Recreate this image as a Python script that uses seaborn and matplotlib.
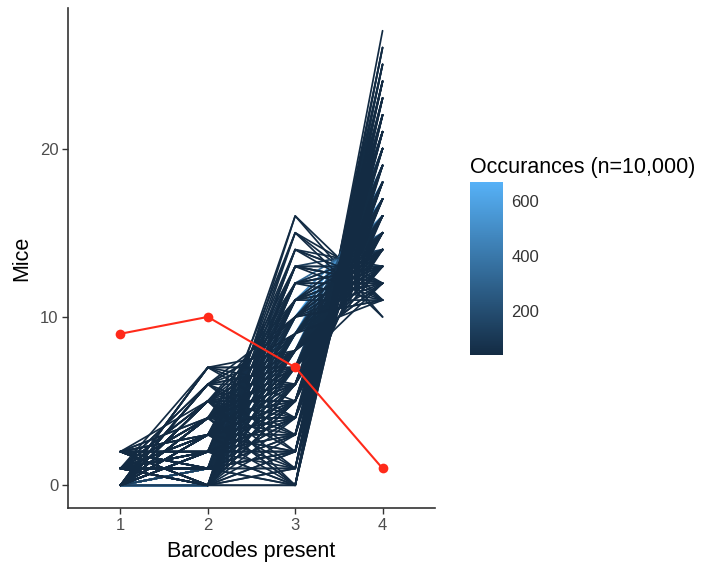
import numpy as np
import pandas as pd
import matplotlib
matplotlib.use("Agg")
import matplotlib.pyplot as plt
from matplotlib.colors import LinearSegmentedColormap, Normalize
from matplotlib.cm import ScalarMappable
import seaborn as sns

# ---------------- data ----------------
barcodes = [1, 2, 3, 4]
# mice counts at 1,2,3,4 barcodes present for each simulated outcome, with occurrence counts
b1 = [0,0,0,0,0,0,0,0,0,0,0,0,0,0,0,0,1,1,0,0,0,1,1,0,0,0,
      0,0,0,1,0,0,1,1,0,0,0,2,0,0,1,0,0,0,0,0,1,0,2,0,0,0,0,1,0,0,0,0,0,1,0,1,2,0,
      0,0,0,0,1,0,0,1,2,0,0,1,1,0,2,0,0,1,0,2,2,0,1,0,1,0,1,2,0,1,0,0,1,2,0,1,0,0,1,
      0,0,0,0,0,0,1,0,1,0,0,1,0,1,0,0,0,2,1,1,0,2,1,0,1,1,1,
      1,1,1,1,1,1,1,1,1,1,1,1,1,1,1,1,1,1,1,1,
      0,0,0,0,0,0,0,0,0,0,0,0,0,
      2,2,2,2,2,2,2,2,2,2,2,2,2,2,2,2,
      0,0,1,1,2,2,1,1,1,1,2]
b2 = [0,1,0,1,0,1,0,2,1,0,2,1,2,0,1,2,0,1,2,0,1,0,1,3,3,2,
      0,1,2,3,4,5,1,0,0,1,3,0,0,2,0,6,0,1,2,3,2,5,1,0,1,2,4,1,6,0,1,2,3,0,5,4,3,7,
      0,1,2,3,2,4,7,5,4,3,4,7,1,5,2,3,4,2,6,0,5,4,3,5,6,4,2,1,3,1,5,3,0,0,2,0,0,1,0,
      2,0,1,0,1,7,3,6,4,1,2,1,4,1,3,5,4,2,3,5,6,0,2,4,3,4,2,
      0,0,0,0,1,1,1,1,1,2,2,2,2,2,3,3,3,4,4,4,
      3,4,5,5,5,6,6,2,3,4,5,5,6,
      0,0,0,0,0,1,1,1,1,1,2,2,2,3,3,4,
      7,7,6,5,2,1,2,3,4,5,3]
b3 = [10,10,9,9,11,11,8,10,8,12,9,12,11,7,7,8,10,9,12,13,13,9,10,9,10,7,
      0,0,0,0,0,0,0,0,1,1,1,1,2,2,2,2,3,3,3,3,3,3,3,4,4,4,4,4,4,5,5,5,5,5,5,5,5,5,
      6,6,6,6,6,6,6,6,6,7,7,7,7,7,7,8,8,8,8,8,8,9,9,9,9,10,10,10,11,11,11,12,12,13,13,13,14,14,14,
      14,15,15,16,16,7,11,6,8,2,1,2,3,1,2,4,5,4,6,10,10,11,12,11,2,0,0,
      6,7,8,11,5,6,8,12,13,4,5,7,9,11,7,8,10,6,7,9,
      13,12,6,8,10,7,9,15,4,1,1,2,3,
      5,6,9,10,12,6,7,8,9,11,5,8,9,7,8,7,
      4,8,7,8,2,2,2,3,4,5,4]
b4 = [17,16,18,17,16,15,19,15,18,15,16,14,14,20,19,17,16,16,13,14,13,17,15,15,14,18,
      27,26,25,23,23,22,25,26,26,25,23,24,25,23,24,19,24,23,22,21,21,19,21,23,22,21,19,21,17,22,21,20,19,21,17,17,17,15,
      21,20,19,18,18,17,14,15,15,17,16,12,18,15,16,16,15,16,13,17,12,14,14,13,11,13,14,14,13,14,11,12,14,12,12,13,13,12,12,
      11,12,11,11,10,13,12,15,14,24,24,23,20,24,22,18,18,19,17,11,11,14,12,12,21,22,24,
      20,19,18,15,20,19,17,13,12,20,19,17,15,13,16,15,13,16,15,13,
      11,11,16,14,12,14,12,10,20,22,21,20,18,
      20,19,16,15,13,18,17,16,15,13,18,15,14,15,14,14,
      16,12,13,13,21,22,22,20,18,16,18]
occ = [665,610,560,515,490,450,415,380,355,330,300,275,250,230,205,190,170,158,147,138,128,120,114,108,102,97,
       41,43,42,40,41,40,42,41,45,47,44,40,48,50,46,40,52,55,53,49,46,42,41,58,62,60,48,51,41,66,70,68,61,57,45,43,41,40,
       80,86,82,74,63,58,40,44,41,88,72,40,79,55,43,93,76,84,44,47,40,70,62,52,40,66,71,45,77,81,42,58,69,41,64,57,60,54,43,
       44,48,45,42,40,40,46,42,45,49,44,42,45,40,43,44,52,40,50,40,40,41,46,48,41,40,40,
       55,58,60,56,50,54,57,49,44,47,52,55,58,50,48,51,47,44,46,43,
       41,42,45,47,44,41,42,40,48,41,40,42,41,
       42,44,43,44,41,45,46,47,45,42,43,44,42,41,42,40,
       40,40,41,41,40,40,42,43,42,41,40]

observed = [9, 10, 7, 1]

occ_low, occ_high = 39, 668
legend_title = "Occurances (n=10,000)"

# ---------------- long table ----------------
rows = []
for i in range(len(occ)):
    for x, y in zip(barcodes, (b1[i], b2[i], b3[i], b4[i])):
        rows.append({"id": i, "Barcodes present": x, "Mice": y, "occ": occ[i],
                     "b1": b1[i], "b2": b2[i]})
df = pd.DataFrame(rows)
obs = pd.DataFrame({"Barcodes present": barcodes, "Mice": observed})

# drawing layers (mimic the overlap order of the reference)
high = df["occ"] >= 97
base = (~high) & (df["b1"] == 0) & (df["b2"] <= 1)
layers = [df[base], df[high], df[~high & ~base]]

# ---------------- style ----------------
sns.set_style("ticks")
plt.rcParams["font.family"] = ["Liberation Sans", "DejaVu Sans"]

cmap = LinearSegmentedColormap.from_list("gg", ["#132B43", "#56B1F7"])
norm = Normalize(occ_low, occ_high)

fig = plt.figure(figsize=(7.03, 5.62), dpi=100)
ax = fig.add_axes([68 / 703, 54 / 562, (435 - 68) / 703, (508 - 8) / 562])

for li, layer in enumerate(layers):
    start = len(ax.lines)
    sns.lineplot(data=layer, x="Barcodes present", y="Mice", hue="occ", units="id",
                 estimator=None, palette=cmap, hue_norm=norm, legend=False,
                 linewidth=1.25, ax=ax)
    new = ax.lines[start:]
    n = len(new)
    for k, ln in enumerate(new):
        # within a layer: high-occurrence outcomes underneath
        ln.set_zorder(2 + li + (n - k) * 1e-4)

sns.lineplot(data=obs, x="Barcodes present", y="Mice", color="#FF2A1A",
             marker="o", markersize=7, markeredgewidth=0, linewidth=1.5,
             ax=ax, zorder=10)

ax.set_xlim(0.4, 4.6)
ax.set_ylim(-1.35, 28.35)
ax.set_xticks(barcodes)
ax.set_yticks([0, 10, 20])
for side in ["top", "right"]:
    ax.spines[side].set_visible(False)
for side in ["left", "bottom"]:
    ax.spines[side].set_color("#333333")
    ax.spines[side].set_linewidth(1.2)
ax.tick_params(axis="both", length=4, width=1, color="#333333",
               labelsize=12, labelcolor="#4D4D4D", pad=3)
ax.set_xlabel("Barcodes present", fontsize=15.5, color="black", labelpad=6)
ax.set_ylabel("Mice", fontsize=15.5, color="black", labelpad=5)
ax.grid(False)

# ---------------- colourbar ----------------
cax = fig.add_axes([470 / 703, (562 - 355) / 562, 33 / 703, 173 / 562])
cb = fig.colorbar(ScalarMappable(norm=norm, cmap=cmap), cax=cax)
cb.outline.set_visible(False)
cb.set_ticks([200, 400, 600])
cax.tick_params(axis="y", which="both", direction="in", left=True, right=True,
                length=6, width=1, color="white", labelsize=12,
                labelcolor="#333333", pad=6)
cax.tick_params(axis="y", which="minor", left=False, right=False)
fig.text(470 / 703, 1 - 167 / 562, legend_title, fontsize=15.5,
         va="center", ha="left", color="black")

fig.savefig("out.png", dpi=100)
